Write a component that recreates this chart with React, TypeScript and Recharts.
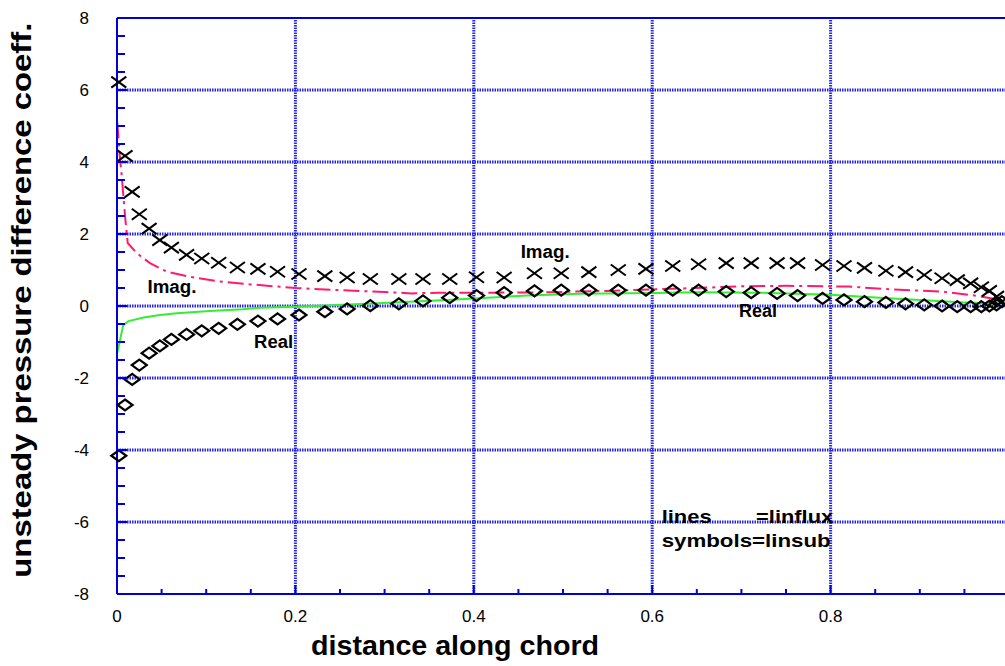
import { ComposedChart, XAxis, YAxis, Line, Scatter, ReferenceLine, ReferenceDot } from 'recharts';

// linsub symbols (shared chord positions)
const subX = [0.002, 0.009, 0.017, 0.025, 0.036, 0.048, 0.061, 0.078, 0.095, 0.114, 0.135, 0.158, 0.18, 0.204, 0.233, 0.258, 0.284, 0.316, 0.343, 0.373, 0.403, 0.434, 0.468, 0.498, 0.529, 0.562, 0.593, 0.623, 0.652, 0.683, 0.711, 0.74, 0.763, 0.791, 0.815, 0.838, 0.862, 0.884, 0.905, 0.925, 0.942, 0.957, 0.969, 0.978, 0.986, 0.992];
const imagSub = [6.22, 4.17, 3.17, 2.55, 2.15, 1.83, 1.62, 1.42, 1.32, 1.2, 1.07, 1.03, 0.95, 0.89, 0.83, 0.79, 0.75, 0.75, 0.75, 0.75, 0.8, 0.79, 0.91, 0.91, 0.94, 1.0, 1.03, 1.11, 1.16, 1.19, 1.19, 1.19, 1.19, 1.14, 1.11, 1.06, 0.98, 0.94, 0.86, 0.77, 0.72, 0.63, 0.52, 0.42, 0.26, 0.12];
const realSub = [-4.16, -2.75, -2.04, -1.64, -1.31, -1.11, -0.93, -0.79, -0.69, -0.62, -0.51, -0.42, -0.36, -0.25, -0.16, -0.08, 0.01, 0.06, 0.14, 0.23, 0.29, 0.37, 0.42, 0.44, 0.44, 0.44, 0.44, 0.44, 0.44, 0.4, 0.37, 0.35, 0.29, 0.21, 0.17, 0.12, 0.1, 0.06, 0.03, 0.0, -0.02, -0.02, -0.02, 0.0, 0.03, 0.12];

// linflux lines
const imagFluxX = [0.0003, 0.003, 0.005, 0.007, 0.009, 0.012, 0.022, 0.037, 0.056, 0.082, 0.112, 0.15, 0.2, 0.25, 0.3, 0.33, 0.36, 0.42, 0.48, 0.55, 0.6, 0.65, 0.7, 0.75, 0.82, 0.87, 0.925, 0.965, 0.99];
const imagFlux = [5.1, 4.2, 3.7, 3.1, 2.5, 1.75, 1.47, 1.19, 0.95, 0.81, 0.69, 0.6, 0.5, 0.44, 0.39, 0.35, 0.37, 0.37, 0.38, 0.42, 0.46, 0.5, 0.55, 0.56, 0.54, 0.46, 0.4, 0.28, 0.17];
const realFluxX = [0.0003, 0.003, 0.007, 0.013, 0.03, 0.048, 0.067, 0.104, 0.141, 0.16, 0.2, 0.28, 0.37, 0.46, 0.52, 0.6, 0.65, 0.72, 0.8, 0.855, 0.91, 0.95, 0.99];
const realFlux = [-1.31, -0.99, -0.53, -0.42, -0.32, -0.25, -0.2, -0.14, -0.09, -0.05, -0.02, 0.06, 0.17, 0.29, 0.34, 0.36, 0.38, 0.37, 0.31, 0.23, 0.15, 0.1, 0.06];

// axes
const xTicks = [0, 0.05, 0.1, 0.15, 0.2, 0.25, 0.3, 0.35, 0.4, 0.45, 0.5, 0.55, 0.6, 0.65, 0.7, 0.75, 0.8, 0.85, 0.9, 0.95, 1];
const xMajor = [0, 0.2, 0.4, 0.6, 0.8, 1];
const xLabels = ['0', '0.2', '0.4', '0.6', '0.8', '1'];
const yTicks = [-8, -7.5, -7, -6.5, -6, -5.5, -5, -4.5, -4, -3.5, -3, -2.5, -2, -1.5, -1, -0.5, 0, 0.5, 1, 1.5, 2, 2.5, 3, 3.5, 4, 4.5, 5, 5.5, 6, 6.5, 7, 7.5, 8];
const yMajor = [-8, -6, -4, -2, 0, 2, 4, 6, 8];
const yLabels = ['-8', '-6', '-4', '-2', '0', '2', '4', '6', '8'];
const xGrid = [0.2, 0.4, 0.6, 0.8];
const yGrid = [-6, -4, -2, 0, 2, 4, 6];

const zip = (xs: number[], ys: number[]) => xs.map((x, i) => ({ x, y: ys[i] }));

const BLUE = '#0000d8';
const GRID = '#2626e6';

function BottomTick({ x, y, payload }: any) {
  const i = xMajor.indexOf(payload.value);
  return (
    <g>
      <line x1={x} x2={x} y1={y} y2={y - (i >= 0 ? 9 : 5)} stroke={BLUE} strokeWidth={2} />
      {i >= 0 && (
        <text x={x} y={y + 22} textAnchor="middle" dominantBaseline="central" fontSize={17} fill="#000">
          {xLabels[i]}
        </text>
      )}
    </g>
  );
}

function TopTick({ x, y, payload }: any) {
  const major = xMajor.includes(payload.value);
  return <line x1={x} x2={x} y1={y} y2={y + (major ? 9 : 5)} stroke={BLUE} strokeWidth={2} />;
}

function LeftTick({ x, y, payload }: any) {
  const i = yMajor.indexOf(payload.value);
  return (
    <g>
      <line x1={x} x2={x + (i >= 0 ? 10 : 8)} y1={y} y2={y} stroke={BLUE} strokeWidth={2} />
      {i >= 0 && (
        <text x={x - 28} y={y} textAnchor="end" dominantBaseline="central" fontSize={17} fill="#000">
          {yLabels[i]}
        </text>
      )}
    </g>
  );
}

function RightTick({ x, y, payload }: any) {
  const major = yMajor.includes(payload.value);
  return <line x1={x} x2={x - (major ? 10 : 8)} y1={y} y2={y} stroke={BLUE} strokeWidth={2} />;
}

function CrossMark({ cx, cy }: any) {
  return (
    <g stroke="#000" strokeWidth={2}>
      <line x1={cx - 7.5} y1={cy - 5.5} x2={cx + 7.5} y2={cy + 5.5} />
      <line x1={cx - 7.5} y1={cy + 5.5} x2={cx + 7.5} y2={cy - 5.5} />
    </g>
  );
}

function DiamondMark({ cx, cy }: any) {
  return (
    <polygon
      points={`${cx},${cy - 5.5} ${cx + 7.5},${cy} ${cx},${cy + 5.5} ${cx - 7.5},${cy}`}
      fill="none"
      stroke="#000"
      strokeWidth={2.2}
    />
  );
}

// bold annotation drawn at a data point; length stretches the text to the reference width
const note = (value: string, anchor: 'start' | 'middle', size: number, length: number, angle = 0) => (props: any) => {
  const { x, y } = props.viewBox;
  return (
    <text
      x={x}
      y={y}
      dy="0.355em"
      textAnchor={anchor}
      fontSize={size}
      fontWeight="bold"
      fill="#000"
      textLength={length}
      lengthAdjust="spacingAndGlyphs"
      transform={angle ? `rotate(${angle} ${x} ${y})` : undefined}
    >
      {value}
    </text>
  );
};

export default function App() {
  const axisLine = { stroke: BLUE, strokeWidth: 2 };
  const dot = { r: 0, fill: 'none', stroke: 'none', ifOverflow: 'visible' as const };
  return (
    <div
      style={{
        position: 'fixed',
        left: 0,
        top: 0,
        width: 1005,
        height: 666,
        overflow: 'hidden',
        background: '#fff',
        fontFamily: '"Liberation Sans", Arial, sans-serif',
      }}
    >
      <ComposedChart width={1030} height={666} margin={{ top: 17, right: 20, bottom: 71, left: 116 }}>
        <XAxis
          xAxisId="t"
          orientation="top"
          type="number"
          domain={[0, 1]}
          ticks={xTicks}
          interval={0}
          height={1}
          tickSize={0}
          tickMargin={0}
          tickLine={false}
          axisLine={axisLine}
          tick={<TopTick />}
        />
        <XAxis
          dataKey="x"
          type="number"
          domain={[0, 1]}
          ticks={xTicks}
          interval={0}
          height={1}
          tickSize={0}
          tickMargin={0}
          tickLine={false}
          axisLine={axisLine}
          tick={<BottomTick />}
        />
        <YAxis
          dataKey="y"
          type="number"
          domain={[-8, 8]}
          ticks={yTicks}
          interval={0}
          width={1}
          tickSize={0}
          tickMargin={0}
          tickLine={false}
          axisLine={axisLine}
          tick={<LeftTick />}
        />
        <YAxis
          yAxisId="r"
          orientation="right"
          type="number"
          domain={[-8, 8]}
          ticks={yTicks}
          interval={0}
          width={1}
          tickSize={0}
          tickMargin={0}
          tickLine={false}
          axisLine={axisLine}
          tick={<RightTick />}
        />

        {xGrid.map((v) => (
          <ReferenceLine key={`gx${v}`} x={v} stroke={GRID} strokeWidth={3} strokeDasharray="1.5 1" />
        ))}
        {yGrid.map((v) => (
          <ReferenceLine key={`gy${v}`} y={v} stroke={GRID} strokeWidth={3} strokeDasharray="1.5 1" />
        ))}

        <Line
          data={zip(imagFluxX, imagFlux)}
          dataKey="y"
          type="linear"
          stroke="#ff1a6e"
          strokeWidth={2}
          strokeDasharray="16 5 3 5"
          dot={false}
          isAnimationActive={false}
        />
        <Line
          data={zip(realFluxX, realFlux)}
          dataKey="y"
          type="linear"
          stroke="#33ee33"
          strokeWidth={2}
          dot={false}
          isAnimationActive={false}
        />
        <Scatter data={zip(subX, imagSub)} shape={(p: any) => <CrossMark {...p} />} isAnimationActive={false} />
        <Scatter data={zip(subX, realSub)} shape={(p: any) => <DiamondMark {...p} />} isAnimationActive={false} />

        <ReferenceDot x={0.0616} y={0.536} {...dot} label={note('Imag.', 'middle', 18, 49)} />
        <ReferenceDot x={0.1756} y={-0.986} {...dot} label={note('Real', 'middle', 18, 39)} />
        <ReferenceDot x={0.48} y={1.514} {...dot} label={note('Imag.', 'middle', 18, 49)} />
        <ReferenceDot x={0.7186} y={-0.125} {...dot} label={note('Real', 'middle', 18, 38)} />
        <ReferenceDot x={0.6106} y={-5.85} {...dot} label={note('lines', 'start', 19, 50)} />
        <ReferenceDot x={0.7165} y={-5.85} {...dot} label={note('=linflux', 'start', 19, 77)} />
        <ReferenceDot x={0.6106} y={-6.5} {...dot} label={note('symbols=linsub', 'start', 19, 169)} />

        <ReferenceDot x={0.379} y={-9.42} {...dot} label={note('distance along chord', 'middle', 28, 288)} />
        <ReferenceDot x={-0.1076} y={0.16} {...dot} label={note('unsteady pressure difference coeff.', 'middle', 28, 555, -90)} />
      </ComposedChart>
    </div>
  );
}
